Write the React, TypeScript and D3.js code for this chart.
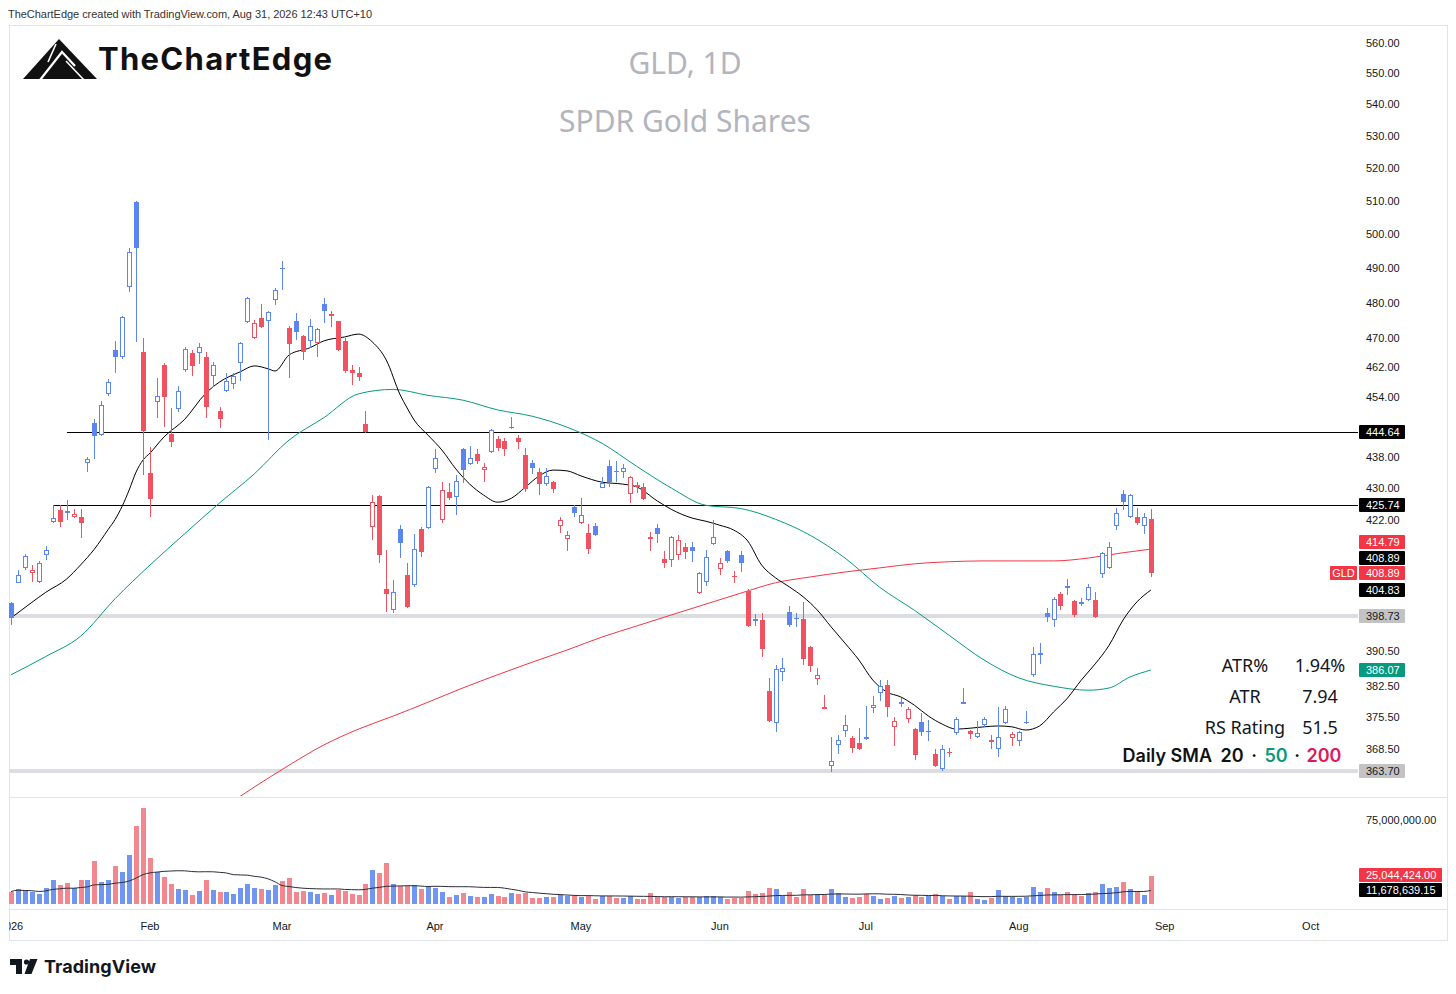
import React from 'react';
import * as d3 from 'd3';

// ---------- DATA ----------
const OPEN = [
  401.8,406.6,410.1,408.9,406.8,413.4,421.5,424.5,424.3,422.7,
  422.7,436.5,447.0,443.8,454.7,466.8,464.8,484.6,509.6,466.2,
  434.0,452.6,462.6,444.1,450.8,461.3,466.0,466.0,464.8,459.6,
  450.2,455.5,457.4,463.2,474.6,470.1,475.8,474.9,480.8,490.1,
  472.9,474.9,470.7,469.3,468.6,479.6,476.3,474.9,469.3,461.3,
  460.5,446.7,420.2,428.1,405.0,400.1,419.7,408.5,406.0,419.7,
  419.9,435.0,422.0,429.1,427.8,440.1,436.3,438.8,434.7,439.4,
  442.7,442.2,445.6,443.0,438.6,436.5,434.2,431.1,431.6,420.5,
  417.3,425.3,421.2,418.7,420.5,430.2,435.7,434.5,434.2,428.5,
  430.8,430.3,417.8,419.9,412.4,412.1,413.4,415.3,415.3,404.1,
  406.8,416.0,409.9,414.3,408.3,413.4,404.6,397.9,397.7,381.3,
  374.1,385.7,399.6,398.3,397.9,391.5,384.0,377.7,364.7,369.4,
  372.4,370.8,369.7,371.1,377.4,380.8,382.6,373.3,378.9,375.0,
  372.8,374.3,372.2,367.3,364.0,367.7,371.9,378.5,372.4,371.1,
  373.7,370.3,368.4,374.1,370.8,370.2,374.1,385.0,389.6,399.4,
  397.7,403.8,405.8,402.2,402.0,402.5,402.5,408.7,410.2,420.5,
  428.5,422.7,422.7,420.5,422.2,
];
const HIGH = [
  402.0,409.7,413.5,411.0,411.8,415.6,425.74,425.7,427.0,424.8,
  424.7,438.0,448.1,452.9,458.8,469.3,476.3,495.9,509.8,470.1,
  440.7,459.1,463.2,451.0,456.9,467.6,466.8,468.7,466.2,463.4,
  451.3,460.5,460.5,469.0,481.7,475.2,479.6,477.7,484.3,492.1,
  473.5,477.2,471.0,475.5,472.8,481.4,477.6,475.0,470.1,462.6,
  462.1,450.2,428.3,428.3,414.6,407.3,420.7,411.4,418.5,420.2,
  430.7,440.1,431.6,431.3,433.4,440.3,441.0,440.1,436.5,445.4,
  443.5,443.0,448.6,443.8,440.4,437.3,435.2,435.2,431.8,422.8,
  419.2,425.7,427.6,421.0,421.2,432.9,437.3,437.0,436.3,433.1,
  431.6,431.4,419.0,421.0,414.4,418.0,418.3,416.2,416.5,409.2,
  414.6,422.0,412.6,414.6,409.5,414.4,405.0,399.2,399.4,384.3,
  387.2,388.8,401.0,399.4,402.0,391.6,386.5,380.4,371.0,371.6,
  375.9,371.3,373.0,377.9,380.1,383.8,383.8,375.5,379.7,377.7,
  373.0,376.3,374.8,368.4,369.3,368.6,375.5,382.1,372.6,374.6,
  375.5,371.5,377.7,377.9,372.2,372.4,376.8,391.4,392.3,400.6,
  403.2,404.3,407.5,402.4,402.9,406.2,404.3,414.1,416.5,425.0,
  429.6,428.5,425.0,423.8,424.7,
];
const LOW = [
  396.6,406.6,409.8,406.8,406.6,412.1,421.3,420.3,422.0,422.4,
  417.5,434.2,437.5,443.5,454.2,460.5,464.3,483.0,469.0,433.4,
  422.7,448.3,445.9,440.7,450.0,460.8,459.6,462.9,448.3,456.6,
  445.6,455.3,456.0,458.3,474.4,469.8,473.0,442.5,479.3,483.7,
  459.1,469.6,464.0,467.4,464.8,474.4,473.2,466.6,460.5,457.2,
  458.3,444.4,417.0,411.4,399.6,399.4,412.6,400.6,405.5,412.9,
  419.7,434.0,421.3,427.0,423.3,431.3,436.0,436.3,431.6,439.1,
  439.6,438.3,445.5,440.1,429.1,433.7,428.3,430.6,428.8,418.7,
  414.4,422.8,421.0,413.6,418.0,430.1,430.4,431.6,432.6,426.2,
  428.8,427.0,414.4,416.3,410.2,410.4,412.1,412.4,411.7,404.0,
  405.8,415.8,408.5,411.4,406.6,409.2,396.0,396.3,389.1,374.3,
  372.1,383.6,396.0,396.0,387.2,385.7,382.7,377.2,363.5,367.3,
  371.0,367.5,368.2,370.4,376.3,379.0,375.5,369.1,377.7,374.1,
  366.0,371.3,370.2,364.5,363.7,366.7,371.5,378.4,370.6,370.8,
  373.3,368.4,366.7,373.9,369.1,369.1,373.9,384.5,387.5,397.2,
  396.0,400.1,403.6,398.4,401.0,402.2,398.2,407.8,409.9,419.5,
  424.5,422.5,420.7,418.5,408.0,
];
const CLOSE = [
  398.2,408.5,413.0,409.7,411.5,414.6,422.5,421.5,423.8,423.4,
  421.2,437.5,443.5,451.8,458.0,464.8,476.0,494.7,495.9,444.9,
  427.2,454.2,454.0,442.0,455.5,467.1,462.4,467.6,451.3,462.6,
  448.0,458.3,459.6,468.7,481.4,474.4,473.2,477.5,483.7,489.8,
  468.4,471.8,466.2,473.5,472.6,477.7,476.8,466.8,461.0,460.5,
  459.3,444.6,426.5,413.4,404.0,404.4,416.3,400.8,414.8,414.2,
  430.4,437.8,429.6,427.5,431.9,434.7,437.8,437.0,435.5,445.1,
  440.4,440.1,445.9,442.0,429.8,435.2,431.1,433.2,429.8,422.0,
  418.3,423.8,423.2,414.8,418.2,431.3,431.6,434.2,435.2,433.0,
  430.4,427.2,417.4,418.5,411.4,417.8,417.0,414.0,414.3,409.0,
  412.9,417.7,411.4,411.9,408.0,411.4,396.3,397.6,391.0,374.6,
  386.3,386.5,396.6,398.0,388.6,387.0,385.0,377.3,365.8,370.3,
  373.7,368.6,368.4,370.6,378.1,382.4,377.7,374.6,378.5,377.2,
  367.1,372.2,372.4,364.7,368.4,367.5,375.0,378.8,371.7,371.9,
  375.0,370.0,371.1,377.2,371.7,372.2,374.3,389.8,390.0,398.4,
  402.7,401.1,405.4,398.9,401.5,405.5,398.4,413.9,415.3,423.8,
  426.5,428.3,421.2,422.7,408.89,
];
const PRIOR_CLOSE = 396.0;

// volume in millions of shares
const VOLUME_M = [
  11.1,13.5,11.7,11.1,8.7,14.1,21.0,17.1,18.6,14.1,
  21.0,21.6,38.7,19.5,21.6,34.2,28.5,44.1,69.6,85.5,
  41.1,28.5,24.0,17.7,13.2,12.6,8.4,11.7,21.0,12.6,
  11.1,10.5,8.7,14.1,17.7,14.1,13.2,12.6,17.1,20.1,
  23.1,10.5,12.0,11.1,9.0,9.9,8.1,12.6,12.0,9.0,
  8.1,18.3,30.3,27.9,36.9,17.7,16.5,16.5,16.8,13.5,
  15.6,14.1,11.1,6.0,8.1,9.9,7.2,6.6,6.0,9.0,
  7.2,6.0,9.9,9.0,9.9,5.7,5.7,6.6,6.6,8.1,
  7.5,7.5,6.6,7.5,4.5,7.2,7.2,5.7,5.1,7.2,
  4.5,4.5,9.6,6.0,6.0,6.6,5.1,6.0,6.0,6.6,
  7.5,7.5,6.6,4.5,5.1,5.1,11.7,8.7,9.6,14.1,
  13.2,7.5,11.1,6.6,13.5,8.1,8.7,8.1,13.2,9.6,
  6.0,5.1,6.0,8.7,7.5,4.5,5.1,7.5,5.1,6.0,
  8.1,6.6,7.5,8.7,7.2,4.5,7.5,7.5,10.5,4.5,
  3.6,5.1,12.6,7.2,6.6,5.7,6.6,15.0,11.1,14.1,
  11.1,8.1,10.5,8.7,7.5,9.6,11.1,17.7,14.1,15.0,
  19.2,13.2,11.1,8.1,25.044424,
];

// moving averages: [bar index, value]
const SMA20: [number, number][] = [
  [0,398.2],[3,401.9],[5,404.3],[8,407.5],[10,410.9],[12,414.8],[14,419.7],[15,422.2],[16,425.5],
  [17,429.6],[18,434.2],[19,437.3],[20,439.1],[22,443.3],[25,448.0],[28,454.9],[30,458.0],[33,460.8],
  [35,462.4],[37,461.6],[38,461.0],[40,465.4],[43,467.4],[45,469.3],[48,470.4],[50,471.2],[52,469.0],
  [54,464.0],[56,454.5],[57,451.0],[58,447.8],[60,443.8],[62,439.9],[64,435.0],[66,431.1],[68,428.3],
  [70,426.5],[72,427.5],[74,430.3],[76,433.2],[78,434.7],[80,434.5],[82,433.2],[85,431.6],[88,431.1],
  [90,430.4],[93,426.8],[95,424.7],[98,422.5],[100,421.7],[102,420.7],[104,419.5],[106,416.8],
  [108,410.9],[110,407.8],[112,405.6],[114,403.2],[116,400.1],[118,396.1],[120,392.3],[122,388.4],
  [124,383.8],[126,381.1],[128,380.0],[130,378.1],[132,375.7],[134,373.9],[136,372.8],[138,373.0],
  [140,373.3],[142,373.5],[144,373.3],[146,372.6],[148,373.5],[150,376.6],[152,379.7],[154,383.8],
  [156,387.5],[158,391.8],[160,397.7],[162,402.0],[164,404.83],
];
const SMA50: [number, number][] = [
  [0,385.0],[5,389.2],[10,393.9],[15,402.8],[20,410.9],[25,418.6],[30,426.3],[35,433.7],[40,442.5],
  [45,448.4],[50,454.8],[55,456.0],[60,454.4],[65,453.1],[70,450.5],[75,448.8],[80,445.9],[85,441.7],
  [90,435.7],[95,430.1],[100,425.7],[105,424.9],[110,422.2],[115,418.2],[120,412.6],[125,405.5],
  [130,400.0],[135,394.1],[140,388.4],[145,384.3],[150,382.4],[155,381.5],[158,382.0],[161,384.5],
  [164,386.07],
];
const SMA200: [number, number][] = [
  [30,355.3],[35,360.2],[40,364.9],[45,369.3],[50,372.8],[55,375.7],[60,378.8],[65,382.0],[70,385.0],
  [75,387.9],[80,390.7],[85,393.7],[90,396.3],[95,398.9],[100,401.5],[105,404.1],[110,406.6],
  [115,408.0],[120,409.2],[125,410.2],[130,411.2],[135,411.7],[140,411.9],[145,411.9],[150,411.9],
  [155,412.6],[160,413.9],[164,414.79],
];

const MONTH_TICKS = [
  { label: '2026', bar: 0 }, { label: 'Feb', bar: 20 }, { label: 'Mar', bar: 39 },
  { label: 'Apr', bar: 61 }, { label: 'May', bar: 82 }, { label: 'Jun', bar: 102 },
  { label: 'Jul', bar: 123 }, { label: 'Aug', bar: 145 }, { label: 'Sep', bar: 166 },
  { label: 'Oct', bar: 187 },
];
const PRICE_TICKS = [
  560, 550, 540, 530, 520, 510, 500, 490, 480, 470, 462, 454, 446, 438, 430, 422,
  414, 406, 398, 390.5, 382.5, 375.5, 368.5, 362.5,
];
const LEVEL_LINES = [
  { price: 444.64, fromBar: 8 },
  { price: 425.74, fromBar: 6 },
];
const ZONE_LINES = [398.73, 363.7];
const PRICE_TAGS = [
  { text: '444.64', price: 444.64, bg: '#000000', fg: '#ffffff' },
  { text: '425.74', price: 425.74, bg: '#000000', fg: '#ffffff' },
  { text: '414.79', price: 414.79, bg: '#f23645', fg: '#ffffff' },
  { text: '408.89', price: 408.89, bg: '#000000', fg: '#ffffff' },
  { text: '408.89', price: 408.89, bg: '#f23645', fg: '#ffffff', main: true },
  { text: '404.83', price: 404.83, bg: '#000000', fg: '#ffffff' },
  { text: '398.73', price: 398.73, bg: '#c3c3c3', fg: '#131722' },
  { text: '386.07', price: 386.07, bg: '#089981', fg: '#ffffff' },
  { text: '363.70', price: 363.7, bg: '#c3c3c3', fg: '#131722' },
];
const SYMBOL = 'GLD';
const VOL_TICK = { text: '75,000,000.00', value: 75e6 };
const VOL_LAST_LABEL = '25,044,424.00';
const VOL_SMA_LABEL = '11,678,639.15';
const STATS = [
  { label: 'ATR%', value: '1.94%' },
  { label: 'ATR', value: '7.94' },
  { label: 'RS Rating', value: '51.5' },
];
const SMA_PERIODS = ['20', '50', '200'];

// ---------- STYLE ----------
const UP = '#5b86f0';
const DOWN = '#ef5261';
const VOL_UP = '#7196f2';
const VOL_DOWN = '#f2878f';
const TEAL = '#089981';
const SMA200_C = '#f23645';
const AXIS_FONT = "'Liberation Sans', Arial, sans-serif";
const TXT = '#131722';
const BORDER = '#e0e3eb';

export default function App() {
  const W = 1456, H = 994;
  const L = 9, R = 1358, PT = 25, PB = 796, VB = 904;
  const x = d3.scaleLinear().domain([0, 187]).range([11, 11 + 187 * 6.95]);
  const y = d3.scaleLog().domain([358.3, 566.0]).range([PB, PT]);
  const yv = d3.scaleLinear().domain([0, 75e6]).range([VB, 820]);
  const n = Math.min(OPEN.length, HIGH.length, LOW.length, CLOSE.length);
  const VOLUME = VOLUME_M.map((v) => v * 1e6);

  const line = d3
    .line<[number, number]>()
    .x((d) => x(d[0]))
    .y((d) => y(d[1]))
    .curve(d3.curveMonotoneX);

  const volSma: [number, number][] = VOLUME.map((_, i) => [
    i,
    d3.mean(VOLUME.slice(Math.max(0, i - 19), i + 1)) as number,
  ]);
  const volLine = d3
    .line<[number, number]>()
    .x((d) => x(d[0]))
    .y((d) => yv(d[1]))
    .curve(d3.curveMonotoneX);

  // candles
  const candles = [];
  for (let i = 0; i < n; i++) {
    const o = OPEN[i], h = HIGH[i], l = LOW[i], c = CLOSE[i];
    const prev = i === 0 ? PRIOR_CLOSE : CLOSE[i - 1];
    const col = c >= prev ? UP : DOWN;
    const xp = Math.round(x(i));
    const top = Math.round(y(Math.max(o, c)));
    const bot = Math.round(y(Math.min(o, c)));
    const bh = Math.max(1, bot - top);
    const hollow = c > o;
    candles.push(
      <g key={i}>
        <rect x={xp} y={Math.round(y(h))} width={1} height={Math.max(1, Math.round(y(l)) - Math.round(y(h)))} fill={col} />
        {hollow && bh > 2 ? (
          <rect x={xp - 1.5} y={top + 0.5} width={4} height={bh - 1} fill="#ffffff" stroke={col} strokeWidth={1} />
        ) : (
          <rect x={xp - 2} y={top} width={5} height={bh} fill={col} />
        )}
      </g>
    );
  }

  // volume bars
  const vols = VOLUME.slice(0, n).map((v, i) => {
    const xp = Math.round(x(i));
    const yt = Math.round(yv(v));
    return (
      <rect key={i} x={xp - 2} y={yt} width={5} height={VB - yt} fill={CLOSE[i] >= OPEN[i] ? VOL_UP : VOL_DOWN} />
    );
  });

  // tag stacking (TradingView pushes overlapping labels apart)
  const GAP = 15.5;
  const tags = PRICE_TAGS.map((t) => ({ ...t, ty: y(t.price), yy: y(t.price) }));
  const mainTag = tags.find((t) => (t as any).main)!;
  const above = tags.filter((t) => t !== mainTag && t.ty <= mainTag.ty).sort((a, b) => b.ty - a.ty);
  const below = tags.filter((t) => t !== mainTag && t.ty > mainTag.ty).sort((a, b) => a.ty - b.ty);
  let prevY = mainTag.ty;
  above.forEach((t) => { t.yy = Math.min(t.ty, prevY - GAP); prevY = t.yy; });
  prevY = mainTag.ty;
  below.forEach((t) => { t.yy = Math.max(t.ty, prevY + GAP); prevY = t.yy; });

  // tick labels that sit under a tag are covered (not drawn)
  const visibleTicks = PRICE_TICKS.filter((p) => tags.every((t) => Math.abs(y(p) - t.yy) > 11.5));

  const tagBox = (key: string, text: string, cy: number, bg: string, fg: string, x0 = R + 1, w = 46) => (
    <g key={key}>
      <rect x={x0} y={Math.round(cy) - 7} width={w} height={14} fill={bg} rx={1} />
      <text x={1366} y={Math.round(cy)} dy="0.36em" fontFamily={AXIS_FONT} fontSize={11} fill={fg}>
        {text}
      </text>
    </g>
  );

  const lastVol = VOLUME[n - 1];
  const lastSma = volSma[n - 1][1];

  return (
    <svg width={W} height={H} style={{ position: 'absolute', left: 0, top: 0, background: '#fff' }}>
      <defs>
        <clipPath id="pricePane"><rect x={L} y={PT} width={R - L} height={PB - PT} /></clipPath>
        <clipPath id="volPane"><rect x={L} y={797} width={R - L} height={110} /></clipPath>
        <clipPath id="timeAxis"><rect x={L} y={910} width={1440} height={30} /></clipPath>
      </defs>
      <rect x={0} y={0} width={W} height={H} fill="#ffffff" />

      {/* header */}
      <text x={8} y={18} fontFamily={AXIS_FONT} fontSize={11} fill="#333" textLength={364}>
        TheChartEdge created with TradingView.com, Aug 31, 2026 12:43 UTC+10
      </text>

      {/* frame */}
      <rect x={L + 0.5} y={PT + 0.5} width={1438} height={915} fill="none" stroke={BORDER} />
      <line x1={L} x2={1447} y1={797.5} y2={797.5} stroke={BORDER} />
      <line x1={L} x2={1447} y1={909.5} y2={909.5} stroke={BORDER} />

      {/* logo */}
      <g>
        <polygon points="23,79 59,39 97,79" fill="#111" />
        <polyline points="40,80 62,52 75,66" fill="none" stroke="#fff" strokeWidth={2.2} />
        <polyline points="56,44 48,62" fill="none" stroke="#fff" strokeWidth={1.6} />
        <polyline points="66,61 84,80" fill="none" stroke="#fff" strokeWidth={1.6} />
        <text x={98} y={70} fontFamily="Inter, 'Open Sans', sans-serif" fontWeight={700} fontSize={31} fill="#111" textLength={234}>
          TheChartEdge
        </text>
      </g>

      {/* watermark titles */}
      <text x={685} y={74} textAnchor="middle" fontFamily="'Noto Sans', 'Open Sans', sans-serif" fontSize={30} fill="#b2b5be">
        GLD, 1D
      </text>
      <text x={685} y={132} textAnchor="middle" fontFamily="'Noto Sans', 'Open Sans', sans-serif" fontSize={30} fill="#b2b5be">
        SPDR Gold Shares
      </text>

      {/* price pane */}
      <g clipPath="url(#pricePane)">
        {ZONE_LINES.map((p) => (
          <rect key={p} x={L} y={Math.round(y(p)) - 2} width={R - L} height={4} fill="#dcdde0" />
        ))}
        {LEVEL_LINES.map((lv) => (
          <line key={lv.price} x1={Math.round(x(lv.fromBar))} x2={R} y1={Math.round(y(lv.price)) + 0.5} y2={Math.round(y(lv.price)) + 0.5} stroke="#000" strokeWidth={1} />
        ))}
        <path d={line(SMA200) || ''} fill="none" stroke={SMA200_C} strokeWidth={1} />
        <path d={line(SMA50) || ''} fill="none" stroke={TEAL} strokeWidth={1} />
        <path d={line(SMA20) || ''} fill="none" stroke="#000" strokeWidth={1} />
        {candles}
      </g>

      {/* volume pane */}
      <g clipPath="url(#volPane)">
        {vols}
        <path d={volLine(volSma.slice(0, n)) || ''} fill="none" stroke="#2a2e39" strokeWidth={1} />
      </g>

      {/* stats table */}
      <g fontFamily="'Noto Sans', 'Open Sans', sans-serif" fontSize={18} fill={TXT}>
        {STATS.map((s, k) => (
          <g key={s.label}>
            <text x={1245} y={672 + k * 31} textAnchor="middle">{s.label}</text>
            <text x={1320} y={672 + k * 31} textAnchor="middle">{s.value}</text>
          </g>
        ))}
      </g>
      <g fontFamily="Inter, 'Open Sans', sans-serif" fontSize={18} fontWeight={600}>
        <text x={1212} y={762} textAnchor="end" fill="#111">Daily SMA</text>
        <text x={1232} y={762} textAnchor="middle" fill="#111">{SMA_PERIODS[0]}</text>
        <text x={1254} y={762} textAnchor="middle" fill="#111">·</text>
        <text x={1276} y={762} textAnchor="middle" fill={TEAL}>{SMA_PERIODS[1]}</text>
        <text x={1297} y={762} textAnchor="middle" fill="#111">·</text>
        <text x={1324} y={762} textAnchor="middle" fill="#e0185a">{SMA_PERIODS[2]}</text>
      </g>

      {/* price axis */}
      <g fontFamily={AXIS_FONT} fontSize={11} fill={TXT}>
        {visibleTicks.map((p) => (
          <text key={p} x={1366} y={Math.round(y(p))} dy="0.36em">{p.toFixed(2)}</text>
        ))}
      </g>
      {tags.map((t, k) => tagBox('t' + k, t.text, t.yy, t.bg, t.fg))}
      <g>
        <rect x={1330} y={Math.round(mainTag.yy) - 7} width={27} height={14} fill="#f23645" rx={1} />
        <text x={1343.5} y={Math.round(mainTag.yy)} dy="0.36em" textAnchor="middle" fontFamily={AXIS_FONT} fontSize={11} fill="#fff">{SYMBOL}</text>
      </g>

      {/* volume axis */}
      <text x={1366} y={Math.round(yv(VOL_TICK.value))} dy="0.36em" fontFamily={AXIS_FONT} fontSize={11} fill={TXT}>{VOL_TICK.text}</text>
      {tagBox('vl', VOL_LAST_LABEL, Math.min(yv(lastVol), yv(lastSma) - GAP), '#f23645', '#fff', R + 1, 83)}
      {tagBox('vs', VOL_SMA_LABEL, yv(lastSma), '#000000', '#fff', R + 1, 83)}

      {/* time axis */}
      <g clipPath="url(#timeAxis)" fontFamily={AXIS_FONT} fontSize={11} fill={TXT}>
        {MONTH_TICKS.map((m) => (
          <text key={m.label} x={x(m.bar)} y={930} textAnchor="middle">{m.label}</text>
        ))}
      </g>

      {/* footer logo */}
      <g fill="#131722">
        <path d="M10 959 H22 V974 H16 V965 H10 Z" />
        <circle cx={26.5} cy={962} r={2.6} />
        <path d="M30 959 H37.5 L31.5 974 H24.5 Z" />
        <text x={44} y={973} fontFamily="Inter, 'Open Sans', sans-serif" fontWeight={700} fontSize={18} textLength={112}>
          TradingView
        </text>
      </g>
    </svg>
  );
}
